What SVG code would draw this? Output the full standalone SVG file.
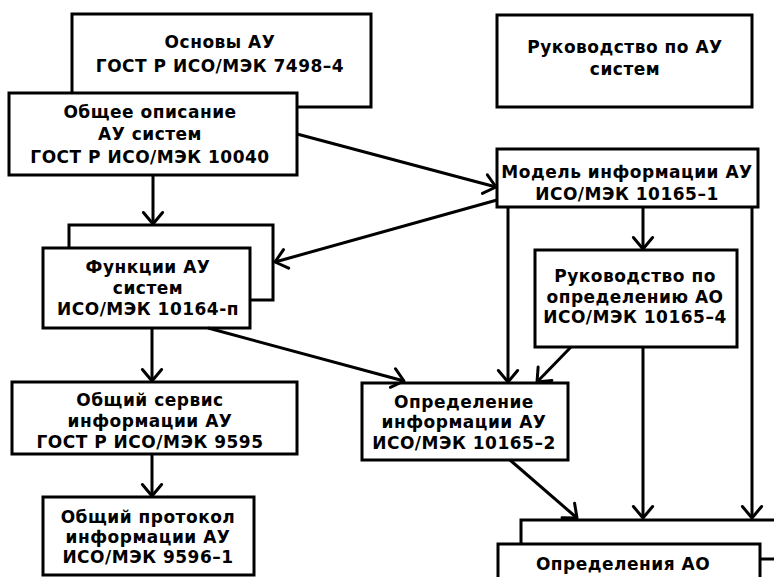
<svg xmlns="http://www.w3.org/2000/svg" width="774" height="577" viewBox="0 0 774 577">
<style>
.box{fill:#fff;stroke:#000;stroke-width:3}
.t{font-family:"DejaVu Sans","Liberation Sans",sans-serif;font-weight:bold;font-size:17px;letter-spacing:0.5px;text-anchor:middle;fill:#000}
.c{fill:none;stroke:#000;stroke-width:3}
</style>
<defs>
<marker id="arr" markerUnits="userSpaceOnUse" markerWidth="30" markerHeight="30" viewBox="-15 -15 30 30" refX="0" refY="0" orient="auto" overflow="visible">
<path d="M-11.5,-9.6 L0,0 L-11.5,9.6" fill="none" stroke="#000" stroke-width="3" stroke-linecap="round" stroke-linejoin="round"/>
</marker>
</defs>
<rect width="774" height="577" fill="#fff"/>
<g id="osnovy">
<rect class="box" x="72" y="14" width="299" height="93"/>
<text class="t" x="220" y="48">Основы АУ</text>
<text class="t" x="220" y="72">ГОСТ Р ИСО/МЭК 7498–4</text>
</g>
<g id="obshee">
<rect class="box" x="9" y="93" width="288" height="82"/>
<text class="t" x="150" y="118">Общее описание</text>
<text class="t" x="150" y="140">АУ систем</text>
<text class="t" x="150" y="163">ГОСТ Р ИСО/МЭК 10040</text>
</g>
<g id="rukovodstvo">
<rect class="box" x="497" y="15" width="255" height="92"/>
<text class="t" x="625" y="53">Руководство по АУ</text>
<text class="t" x="625" y="75">систем</text>
</g>
<g id="model">
<rect class="box" x="497" y="149" width="261" height="58"/>
<text class="t" x="627" y="178">Модель информации АУ</text>
<text class="t" x="627" y="200">ИСО/МЭК 10165–1</text>
</g>
<g id="funkcii">
<rect class="box" x="69" y="225" width="204" height="75"/>
<rect class="box" x="43" y="248" width="207" height="80"/>
<text class="t" x="148" y="273">Функции АУ</text>
<text class="t" x="148" y="294">систем</text>
<text class="t" x="148" y="315">ИСО/МЭК 10164-п</text>
</g>
<g id="rukovodstvo-ao">
<rect class="box" x="535" y="250" width="202" height="97"/>
<text class="t" x="635" y="282">Руководство по</text>
<text class="t" x="635" y="303">определению АО</text>
<text class="t" x="635" y="323">ИСО/МЭК 10165–4</text>
</g>
<g id="servis">
<rect class="box" x="12" y="382" width="285" height="72"/>
<text class="t" x="150" y="406">Общий сервис</text>
<text class="t" x="150" y="427">информации АУ</text>
<text class="t" x="150" y="448">ГОСТ Р ИСО/МЭК 9595</text>
</g>
<g id="opredelenie">
<rect class="box" x="362" y="383" width="206" height="77"/>
<text class="t" x="464" y="408">Определение</text>
<text class="t" x="464" y="428">информации АУ</text>
<text class="t" x="464" y="449">ИСО/МЭК 10165–2</text>
</g>
<g id="protokol">
<rect class="box" x="43" y="497" width="211" height="78"/>
<text class="t" x="148" y="523">Общий протокол</text>
<text class="t" x="148" y="543">информации АУ</text>
<text class="t" x="148" y="563">ИСО/МЭК 9596–1</text>
</g>
<g id="opredeleniya-ao">
<rect class="box" x="521" y="520" width="270" height="80"/>
<rect class="box" x="498" y="544" width="262" height="60"/>
<line class="c" x1="760" y1="559" x2="776" y2="559"/>
<text class="t" x="623" y="570">Определения АО</text>
</g>
<g id="connectors">
<line class="c" x1="153" y1="175" x2="153" y2="224" marker-end="url(#arr)"/>
<line class="c" x1="297" y1="134" x2="496" y2="187" marker-end="url(#arr)"/>
<line class="c" x1="497" y1="200" x2="275" y2="262" marker-end="url(#arr)"/>
<line class="c" x1="643" y1="207" x2="643" y2="249" marker-end="url(#arr)"/>
<line class="c" x1="508" y1="207" x2="508" y2="382" marker-end="url(#arr)"/>
<line class="c" x1="752" y1="207" x2="752" y2="518" marker-end="url(#arr)"/>
<line class="c" x1="571" y1="347" x2="537" y2="382" marker-end="url(#arr)"/>
<line class="c" x1="643" y1="347" x2="643" y2="518" marker-end="url(#arr)"/>
<line class="c" x1="208" y1="328" x2="404" y2="381" marker-end="url(#arr)"/>
<line class="c" x1="152" y1="328" x2="152" y2="381" marker-end="url(#arr)"/>
<line class="c" x1="152" y1="454" x2="152" y2="496" marker-end="url(#arr)"/>
<line class="c" x1="510" y1="460" x2="577" y2="518" marker-end="url(#arr)"/>
</g>
</svg>
